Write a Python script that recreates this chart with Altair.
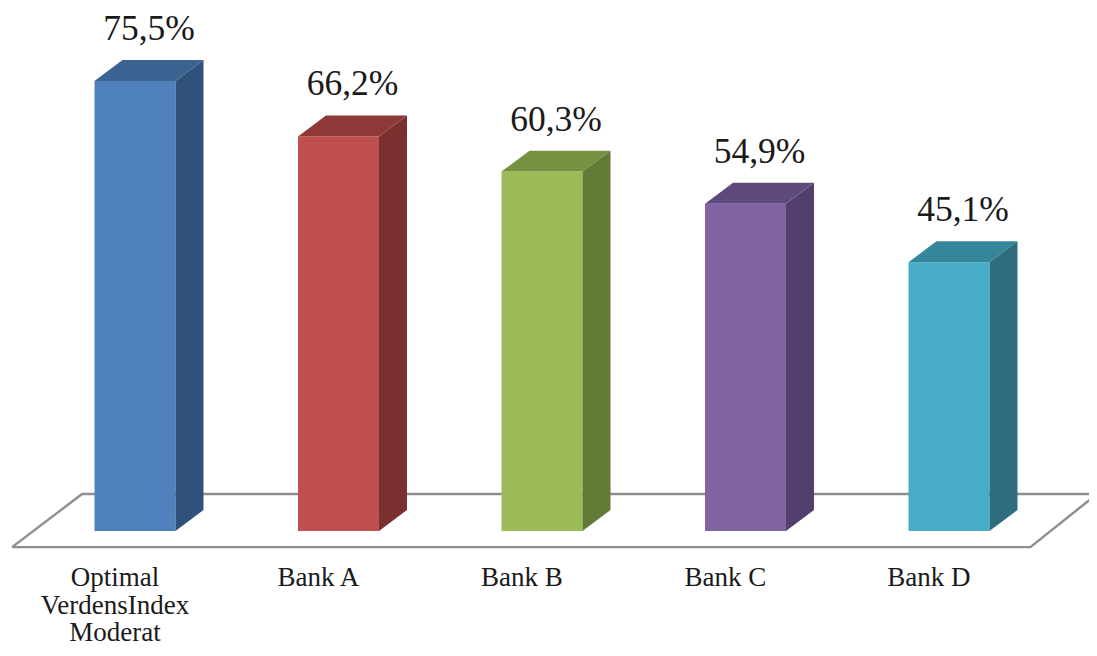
import altair as alt
import pandas as pd

categories = ["Optimal\nVerdensIndex\nModerat", "Bank A", "Bank B", "Bank C", "Bank D"]
values = [75.5, 66.2, 60.3, 54.9, 45.1]
labels = ["75,5%", "66,2%", "60,3%", "54,9%", "45,1%"]
front_colors = ["#4F81BD", "#C0504D", "#9BBB59", "#8064A2", "#47ACC6"]
top_colors = ["#3B6290", "#8E3937", "#76913F", "#5F4A7C", "#35859B"]
side_colors = ["#30527A", "#7A302E", "#637A37", "#533F6E", "#2F6C7D"]
floor_x = [-0.604, -0.26, 4.727, 4.40, -0.604]
floor_y = [-2.7, 6.2, 6.2, -2.7, -2.7]

half_w = 0.199
depth_x = 0.1376
depth_y = 3.52

front = pd.DataFrame({
    "i": range(5), "v": values, "label": labels, "cat": categories, "c": front_colors,
    "l": [i - half_w for i in range(5)], "r": [i + half_w for i in range(5)],
    "base": [0] * 5, "back": [v + depth_y for v in values],
})
side_rows, top_rows = [], []
for i, v in enumerate(values):
    r = i + half_w
    l = i - half_w
    side_rows += [
        dict(k=i, x=r, y=0, y2=v, c=side_colors[i]),
        dict(k=i, x=r + depth_x, y=depth_y, y2=v + depth_y, c=side_colors[i]),
    ]
    top_rows += [
        dict(k=i, y=v, x=l, x2=r, c=top_colors[i]),
        dict(k=i, y=v + depth_y, x=l + depth_x, x2=r + depth_x, c=top_colors[i]),
    ]
side = pd.DataFrame(side_rows)
top = pd.DataFrame(top_rows)
floor = pd.DataFrame({"x": floor_x, "y": floor_y, "o": range(5)})

X = alt.Scale(domain=[-0.624, 4.688], nice=False, zero=False)
Y = alt.Scale(domain=[-19.63, 87.75], nice=False, zero=False)
x = lambda f: alt.X(f, type="quantitative", scale=X, axis=None)
y = lambda f: alt.Y(f, type="quantitative", scale=Y, axis=None)
col = alt.Color("c:N", scale=None, legend=None)

floor_layer = alt.Chart(floor).mark_line(color="#8E8E8E", strokeWidth=2.4, clip=False, strokeJoin="miter").encode(
    x=x("x"), y=y("y"), order="o:Q")
front_layer = alt.Chart(front).mark_bar().encode(x=x("l"), x2="r:Q", y=y("base"), y2="v:Q", color=col)
side_layer = alt.Chart(side).mark_area(orient="vertical", interpolate="linear").encode(
    x=x("x"), y=y("y"), y2="y2:Q", color=col, detail="k:N")
top_layer = alt.Chart(top).mark_area(orient="horizontal", interpolate="linear").encode(
    y=y("y"), x=x("x"), x2="x2:Q", color=col, detail="k:N")
value_text = alt.Chart(front).mark_text(
    font="Liberation Serif", fontSize=35.5, color="#1a1a1a", baseline="alphabetic", align="center", dx=14, dy=-20
).encode(x=x("i"), y=y("back"), text="label:N")
cat_text = alt.Chart(front).mark_text(
    font="Liberation Serif", fontSize=27, color="#1a1a1a", baseline="top", align="center",
    lineBreak="\n", lineHeight=27.5, dx=-20, dy=34
).encode(x=x("i"), y=y("base"), text="cat:N")

chart = alt.layer(floor_layer, front_layer, side_layer, top_layer, value_text, cat_text).properties(
    width=1081, height=640, padding=0, autosize=alt.AutoSizeParams(type="none"), background="white"
).configure_view(stroke=None)

chart.save("out.html", embed_options={"renderer": "svg", "actions": False})
